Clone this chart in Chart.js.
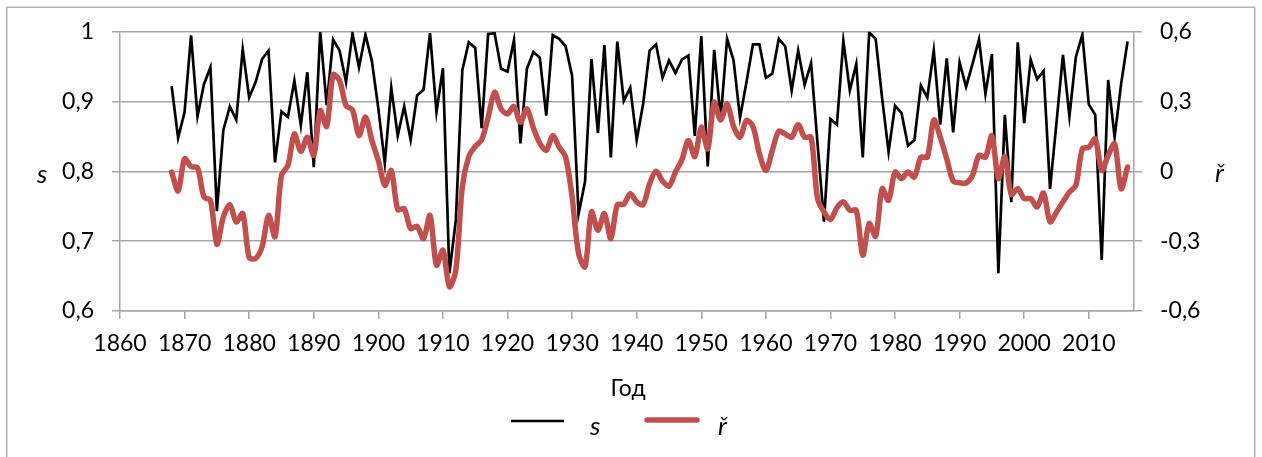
<!DOCTYPE html>
<html>
<head>
<meta charset="utf-8">
<script src="https://cdn.jsdelivr.net/npm/chart.js@4.4.1/dist/chart.umd.min.js"></script>
<style>
  html, body { margin: 0; padding: 0; background: #fff; }
  canvas { display: block; }
</style>
</head>
<body>
<canvas id="c" width="1262" height="457"></canvas>
<script>
// Yearly series, 1868–2016
const firstYear = 1868;

const sValues = [
  0.922, 0.848,                                                         // 1868–1869
  0.885, 0.995, 0.879, 0.925, 0.949, 0.743, 0.859, 0.893, 0.874, 0.975, // 1870s
  0.906, 0.928, 0.961, 0.973, 0.813, 0.886, 0.878, 0.930, 0.866, 0.942, // 1880s
  0.806, 1.000, 0.895, 0.989, 0.973, 0.928, 0.998, 0.949, 0.996, 0.958, // 1890s
  0.890, 0.812, 0.920, 0.851, 0.893, 0.845, 0.909, 0.917, 0.998, 0.885, // 1900s
  0.948, 0.654, 0.730, 0.945, 0.985, 0.977, 0.862, 0.997, 0.998, 0.947, // 1910s
  0.943, 0.988, 0.840, 0.947, 0.971, 0.963, 0.880, 0.995, 0.990, 0.979, // 1920s
  0.937, 0.739, 0.785, 0.961, 0.855, 0.981, 0.820, 0.986, 0.901, 0.920, // 1930s
  0.845, 0.897, 0.973, 0.982, 0.934, 0.959, 0.941, 0.960, 0.966, 0.851, // 1940s
  0.994, 0.807, 0.974, 0.875, 0.990, 0.959, 0.877, 0.928, 0.982, 0.982, // 1950s
  0.934, 0.940, 0.990, 0.979, 0.916, 0.973, 0.924, 0.955, 0.840, 0.728, // 1960s
  0.875, 0.867, 0.987, 0.916, 0.954, 0.820, 0.999, 0.990, 0.905, 0.828, // 1970s
  0.894, 0.884, 0.837, 0.845, 0.923, 0.906, 0.973, 0.867, 0.962, 0.856, // 1980s
  0.956, 0.921, 0.954, 0.989, 0.911, 0.968, 0.654, 0.881, 0.756, 0.985, // 1990s
  0.869, 0.960, 0.932, 0.944, 0.775, 0.870, 0.967, 0.879, 0.964, 0.996, // 2000s
  0.896, 0.881, 0.673, 0.931, 0.849, 0.925, 0.986                       // 2010–2016
];

const rValues = [
  -0.003, -0.084,                                                                  // 1868–1869
  0.054, 0.021, 0.016, -0.110, -0.124, -0.313, -0.196, -0.143, -0.217, -0.181,     // 1870s
  -0.370, -0.374, -0.324, -0.189, -0.281, -0.017, 0.026, 0.161, 0.086, 0.147,      // 1880s
  0.069, 0.261, 0.193, 0.416, 0.390, 0.283, 0.264, 0.154, 0.233, 0.133,            // 1890s
  0.047, -0.060, 0.004, -0.164, -0.160, -0.246, -0.236, -0.289, -0.189, -0.403,    // 1900s
  -0.339, -0.496, -0.424, -0.067, 0.064, 0.107, 0.136, 0.233, 0.340, 0.269,        // 1910s
  0.247, 0.279, 0.211, 0.269, 0.187, 0.121, 0.090, 0.154, 0.104, 0.061,            // 1920s
  -0.110, -0.353, -0.410, -0.174, -0.253, -0.181, -0.289, -0.143, -0.141, -0.096,  // 1930s
  -0.131, -0.143, -0.053, 0.001, -0.041, -0.064, -0.003, 0.050, 0.133, 0.064,      // 1940s
  0.190, 0.097, 0.297, 0.221, 0.290, 0.193, 0.147, 0.219, 0.193, 0.076,            // 1950s
  0.004, 0.090, 0.173, 0.161, 0.147, 0.201, 0.147, 0.147, -0.117, -0.174,          // 1960s
  -0.207, -0.156, -0.131, -0.167, -0.167, -0.360, -0.224, -0.279, -0.074, -0.124,  // 1970s
  -0.003, -0.031, -0.003, -0.024, 0.061, 0.061, 0.221, 0.147, 0.054, -0.041,       // 1980s
  -0.049, -0.050, -0.017, 0.069, 0.061, 0.154, -0.031, 0.064, -0.099, -0.074,      // 1990s
  -0.117, -0.117, -0.153, -0.093, -0.217, -0.174, -0.131, -0.089, -0.060, 0.097,   // 2000s
  0.104, 0.140, 0.004, 0.069, 0.119, -0.074, 0.019                                 // 2010–2016
];

const years = sValues.map((_, i) => firstYear + i);

// Axis ranges and ticks
const xRange = [1860, 2017];
const xStep = 10;
const sRange = [0.6, 1];
const sStep = 0.1;
const rRange = [-0.6, 0.6];
const rStep = 0.3;

// Text
const sName = 's';
const rName = 'ř';
const xTitle = 'Год';

const FONT = 'Lato, "Open Sans", "Liberation Sans", sans-serif';
const GRID = '#A6A6A6';
const RED = '#C0504D';

const decimalComma = v => {
  const r = Math.round(v * 10) / 10;
  return String(r).replace('.', ',');
};

// Frame, axis titles and legend
const decorations = {
  id: 'decorations',
  afterDraw(chart) {
    const ctx = chart.ctx;
    const area = chart.chartArea;
    ctx.save();

    // outer frame (open at the bottom)
    ctx.strokeStyle = '#B4B4B4';
    ctx.lineWidth = 1.5;
    ctx.beginPath();
    ctx.moveTo(6.75, 470);
    ctx.lineTo(6.75, 7.25);
    ctx.lineTo(1254.75, 7.25);
    ctx.lineTo(1254.75, 470);
    ctx.stroke();

    ctx.fillStyle = '#000';
    ctx.textBaseline = 'alphabetic';

    // vertical axis titles
    const midY = (area.top + area.bottom) / 2;
    ctx.font = 'italic 26px ' + FONT;
    ctx.textAlign = 'left';
    ctx.fillText(sName, 37, midY + 12);
    ctx.fillText(rName, 1215, midY + 11);

    // horizontal axis title
    ctx.font = '23px ' + FONT;
    ctx.textAlign = 'center';
    ctx.fillText(xTitle, 628, 396);

    // legend
    ctx.lineCap = 'butt';
    ctx.strokeStyle = '#000';
    ctx.lineWidth = 2.5;
    ctx.beginPath();
    ctx.moveTo(511, 421);
    ctx.lineTo(564, 421);
    ctx.stroke();

    ctx.lineCap = 'round';
    ctx.strokeStyle = RED;
    ctx.lineWidth = 5.5;
    ctx.beginPath();
    ctx.moveTo(647, 420);
    ctx.lineTo(697, 420);
    ctx.stroke();

    ctx.font = 'italic 26px ' + FONT;
    ctx.textAlign = 'left';
    ctx.fillText(sName, 590, 435);
    ctx.fillText(rName, 718, 435);

    ctx.restore();
  }
};

const tickFont = { family: FONT, size: 23 };

new Chart(document.getElementById('c'), {
  type: 'line',
  data: {
    datasets: [
      {
        label: sName,
        data: years.map((y, i) => ({ x: y, y: sValues[i] })),
        yAxisID: 'y',
        borderColor: '#000',
        borderWidth: 2.7,
        pointRadius: 0,
        tension: 0,
        order: 2
      },
      {
        label: rName,
        data: years.map((y, i) => ({ x: y, y: rValues[i] })),
        yAxisID: 'y1',
        borderColor: RED,
        borderWidth: 5.5,
        borderJoinStyle: 'round',
        borderCapStyle: 'round',
        pointRadius: 0,
        tension: 0.3,
        order: 1
      }
    ]
  },
  options: {
    responsive: false,
    animation: false,
    devicePixelRatio: 1,
    layout: { padding: { top: 31, left: 0, right: 0, bottom: 0 } },
    plugins: {
      legend: { display: false },
      tooltip: { enabled: false }
    },
    scales: {
      x: {
        type: 'linear',
        position: 'bottom',
        min: xRange[0],
        max: xRange[1],
        afterFit: s => { s.height = 146; },
        ticks: {
          stepSize: xStep,
          includeBounds: false,
          autoSkip: false,
          maxRotation: 0,
          padding: 11,
          color: '#000',
          font: tickFont,
          callback: v => String(v)
        },
        grid: { drawOnChartArea: false, color: GRID, lineWidth: 1.5, tickLength: 8 },
        border: { display: true, color: GRID, width: 1.5 }
      },
      y: {
        position: 'left',
        min: sRange[0],
        max: sRange[1],
        afterFit: s => { s.width = 120; },
        ticks: {
          stepSize: sStep,
          padding: 18,
          color: '#000',
          font: tickFont,
          callback: v => decimalComma(v)
        },
        grid: { color: GRID, lineWidth: 1.5, tickLength: 8 },
        border: { display: true, color: GRID, width: 1.5 }
      },
      y1: {
        position: 'right',
        min: rRange[0],
        max: rRange[1],
        afterFit: s => { s.width = 128; },
        ticks: {
          stepSize: rStep,
          padding: 18,
          color: '#000',
          font: tickFont,
          callback: v => decimalComma(v)
        },
        grid: { drawOnChartArea: false, color: GRID, lineWidth: 1.5, tickLength: 8 },
        border: { display: true, color: GRID, width: 1.5 }
      }
    }
  },
  plugins: [decorations]
});
</script>
</body>
</html>
